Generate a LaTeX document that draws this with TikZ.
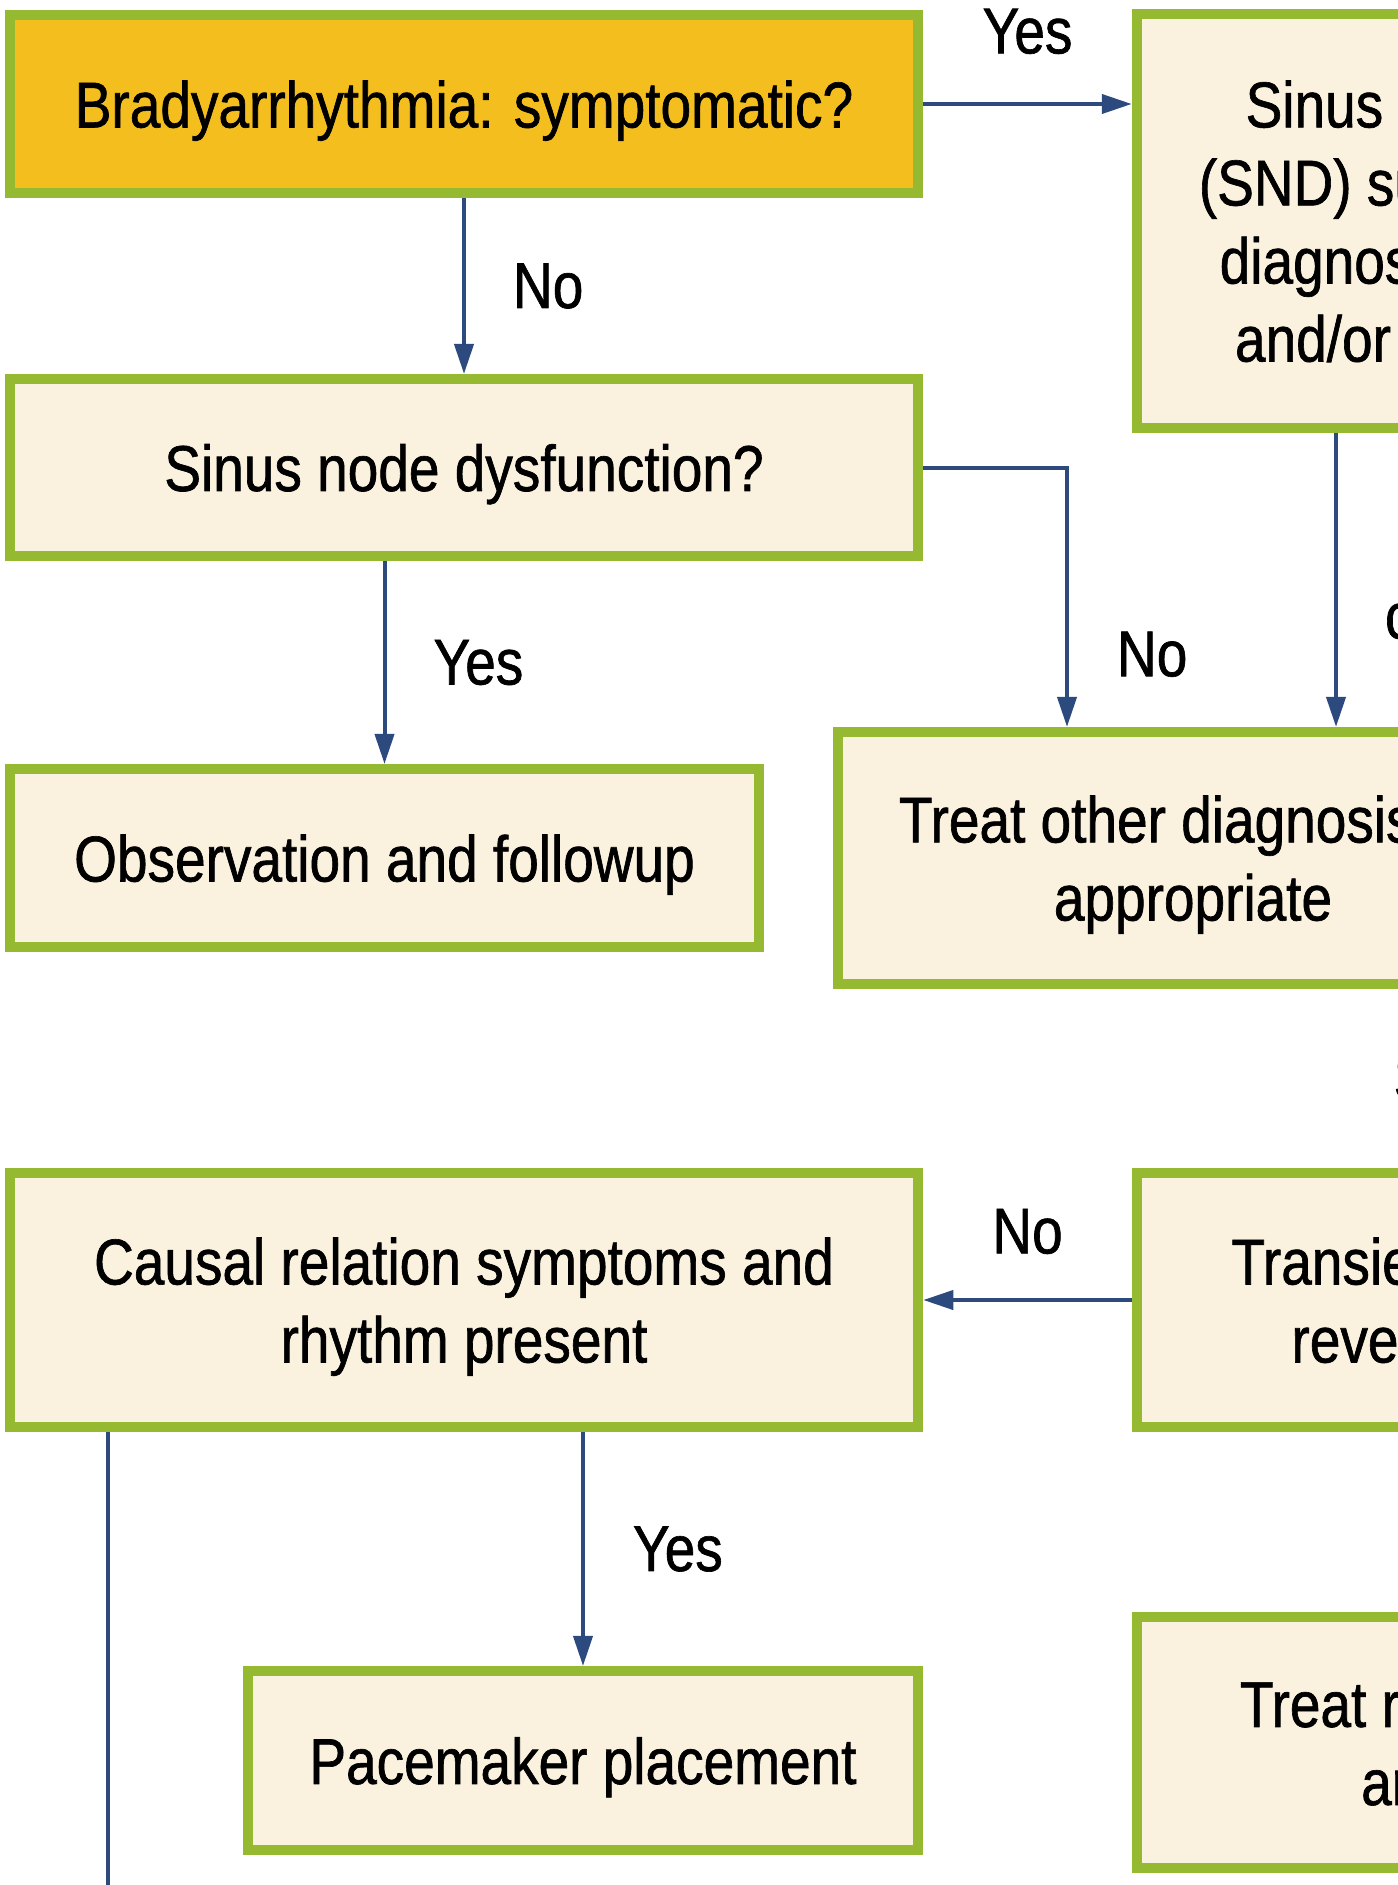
\documentclass[tikz,border=0pt]{standalone}
\usepackage{fontspec}
\setmainfont[FakeStretch=0.85, FakeBold=1]{Liberation Sans}
\usetikzlibrary{arrows.meta,positioning}

\begin{document}
\begin{tikzpicture}[x=0.01cm, y=-0.01cm,
    % Colors
    cgreen/.style={draw={rgb,255:red,149;green,186;blue,49}},
    corange/.style={fill={rgb,255:red,244;green,191;blue,30}},
    ccream/.style={fill={rgb,255:red,250;green,242;blue,223}},
    % Styles
    box/.style={cgreen, ccream, line width=0.1cm, inner sep=0pt, align=center,
                text depth=0pt, font=\fontsize{18.4}{22.2}\selectfont},
    arrow/.style={-{Triangle[length=0.3cm, width=0.19cm]}, line width=0.04cm,
                  color={rgb,255:red,45;green,74;blue,126}},
    line/.style={line width=0.04cm, color={rgb,255:red,45;green,74;blue,126}},
    lbl/.style={font=\fontsize{18.4}{22.2}\selectfont, text=black, inner sep=0pt},
  ]

  \useasboundingbox (0, 0) rectangle (1398, 1885);
  \clip (0, 0) rectangle (1398, 1885);

  % Question: symptomatic
  \node[box, corange, minimum width=9.08cm, minimum height=1.78cm] (brady) at (464, 104)
    {Bradyarrhythmia: symptomatic?};

  % SND suspected
  \node[box, minimum width=7.86cm, minimum height=4.14cm] (snd) at (1530, 221) {
    Sinus node dysfunction\\
    (SND) suspected? Confirm\\
    diagnosis by ECG tracing\\
    and/or Holter monitoring
  };

  % Question: SND
  \node[box, minimum width=9.08cm, minimum height=1.77cm] (sinus) at (464, 467.5)
    {Sinus node dysfunction?};

  % Observation
  \node[box, minimum width=7.49cm, minimum height=1.78cm] (obs) at (384.5, 858)
    {Observation and followup};

  % Other diagnosis
  \node[box, minimum width=7.10cm, minimum height=2.52cm] (other) at (1193, 858) {
    Treat other diagnosis as\\
    appropriate
  };

  % Question: causal relation
  \node[box, minimum width=9.08cm, minimum height=2.54cm] (causal) at (464, 1300) {
    Causal relation symptoms and\\
    rhythm present
  };

  % Question: transient
  \node[box, minimum width=5.78cm, minimum height=2.54cm] (trans) at (1426, 1300) {
    Transient cause\\
    reversible?
  };

  % Pacemaker
  \node[box, minimum width=6.70cm, minimum height=1.79cm] (pace) at (583, 1760.5)
    {Pacemaker placement};

  % Reversible cause
  \node[box, minimum width=7.48cm, minimum height=2.51cm] (revtreat) at (1511, 1742.5) {
    Treat reversible cause\\
    and recheck
  };

  % Bends and loose ends
  \coordinate (jother) at (1067, 0);
  \coordinate (jsnd) at (1336, 0);
  \coordinate (jleft) at (108, 1960);

  % Arrows
  \draw[arrow] (brady.east) -- (brady.east -| snd.west) node[midway, above=0.48cm, lbl] {Yes};
  \draw[arrow] (brady) -- (sinus) node[midway, right=0.47cm, lbl] {No};
  \draw[arrow] (sinus.south -| obs.north) -- (obs.north) node[midway, right=0.47cm, lbl] {Yes};
  \draw[arrow] (sinus.east) -| (other.north -| jother) node[pos=0.86, right=0.48cm, lbl] {No};
  \draw[arrow] (snd.south -| jsnd) -- (other.north -| jsnd) node[pos=0.62, right=0.47cm, lbl] {confirmed};
  \draw[arrow] (trans) -- (causal) node[midway, above=0.44cm, lbl] {No};
  \draw[arrow] (causal.south -| pace.north) -- (pace.north) node[midway, right=0.48cm, lbl] {Yes};
  \draw[line] (causal.south -| jleft) -- (jleft);

  % Label of an arrow beyond the edge
  \node[lbl, anchor=base west] (sndlbl) at (1393, 1100) {SND};

\end{tikzpicture}
\end{document}
